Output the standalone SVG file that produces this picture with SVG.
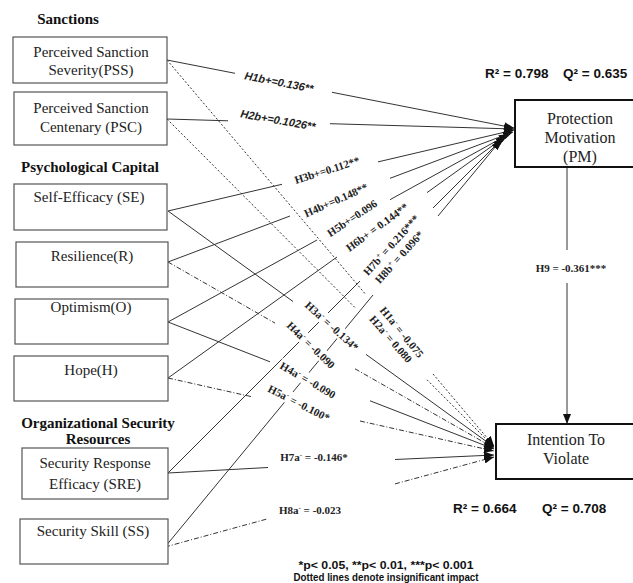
<svg xmlns="http://www.w3.org/2000/svg" width="633" height="583" viewBox="0 0 633 583">
<style>
.box{fill:#fff;stroke:#555;stroke-width:1.2}
.tbox{fill:#fff;stroke:#111;stroke-width:2}
.nt{font-family:"Liberation Serif","Times New Roman",serif;font-size:15px;fill:#222;text-anchor:middle}
.bt{font-family:"Liberation Serif","Times New Roman",serif;font-size:16px;fill:#222;text-anchor:middle}
.cat{font-family:"Liberation Serif","Times New Roman",serif;font-size:15px;font-weight:bold;fill:#111;text-anchor:middle}
.el{font-family:"Liberation Serif","Times New Roman",serif;font-size:11px;font-weight:bold;fill:#222;text-anchor:middle}
.eli{font-family:"Liberation Sans",Arial,sans-serif;font-size:11px;font-style:italic;font-weight:bold;fill:#222;text-anchor:middle}
.stat{font-family:"Liberation Sans",Arial,sans-serif;font-size:13.5px;font-weight:bold;fill:#111}
.leg{font-family:"Liberation Sans",Arial,sans-serif;font-size:11.5px;font-weight:bold;fill:#111;text-anchor:middle}
.ln{fill:none;stroke:#333;stroke-width:1;marker-end:url(#ah)}
.dot{stroke-dasharray:2 2}
.dd{stroke-dasharray:5 2 1 2}
.bg{fill:#fff}
</style>
<defs>
<marker id="ah" markerUnits="userSpaceOnUse" markerWidth="11" markerHeight="8" refX="10" refY="4" orient="auto">
<path d="M0,0 L10,4 L0,8 z" fill="#111"/>
</marker>
</defs>
<rect width="633" height="583" fill="#fff"/>

<g id="connectors">
<!-- to PM -->
<path class="ln" d="M167,60 L235,73.3 M332,92.3 L514,128"/>
<path class="ln" d="M167,119 L228,120.8 M330,123.7 L514,129"/>
<path class="ln" d="M168,211 L282,184.3 M378,161.9 L514,130"/>
<path class="ln" d="M168,262 L290,216 M390,178.3 L513,132"/>
<path class="ln" d="M168,322 L317,240 M390,199.7 L509,134"/>
<path class="ln" d="M168,378 L337,257 M427,192.6 L506,136"/>
<path class="ln" d="M168,473 L360,281 M433,208 L503,138"/>
<path class="ln" d="M165,547 L373,295 M438,216 L501,140"/>
<!-- to ITV -->
<path class="ln dot" d="M167,60 L365,293.6 M433,374 L494,446"/>
<path class="ln dot" d="M167,119 L355,307.6 M427,379.8 L494,447"/>
<path class="ln" d="M168,211 L293,301.5 M366,354.4 L494,447"/>
<path class="ln dd" d="M168,262 L275,323.1 M355,368.8 L494,448"/>
<path class="ln" d="M168,322 L270,361.8 M370,400.8 L494,449"/>
<path class="ln dd" d="M168,378 L253,397 M360,421 L494,451"/>
<path class="ln" d="M168,473 L268,467.5 M395,459.5 L494,455"/>
<path class="ln dd" d="M165,547 L267,519 M395,483.9 L494,457"/>
<!-- H9 -->
<path class="ln" d="M567,168 L567,250 M567,283 L567,424"/>
</g>

<g id="edge-labels">
<g transform="translate(279,82) rotate(11)"><text class="eli" y="4">H1b+=0.136**</text></g>
<g transform="translate(278,120) rotate(10)"><text class="eli" y="4">H2b+=0.1026**</text></g>
<g transform="translate(327,170) rotate(-17.6)"><rect class="bg" x="-37" y="-7" width="74" height="13"/><text class="el" y="4">H3b+=0.112**</text></g>
<g transform="translate(336,200) rotate(-24)"><rect class="bg" x="-37" y="-7" width="74" height="13"/><text class="el" y="4">H4b+=0.148**</text></g>
<g transform="translate(352,218) rotate(-33.7)"><rect class="bg" x="-31" y="-7" width="62" height="13"/><text class="el" y="4">H5b+=0.096</text></g>
<g transform="translate(377,227) rotate(-36)"><rect class="bg" x="-38" y="-7" width="76" height="13"/><text class="el" y="4">H6b+ = 0.144**</text></g>
<g transform="translate(391,245) rotate(-47.6)"><rect class="bg" x="-39" y="-7" width="78" height="13"/><text class="el" y="4">H7b<tspan font-size="7" dy="-4">+</tspan><tspan dy="4"> = 0.216***</tspan></text></g>
<g transform="translate(399,257) rotate(-48)"><rect class="bg" x="-34" y="-7" width="68" height="13"/><text class="el" y="4">H8b<tspan font-size="7" dy="-4">+</tspan><tspan dy="4"> = 0.096*</tspan></text></g>
<g transform="translate(332,326) rotate(42)"><rect class="bg" x="-36" y="-7" width="72" height="13"/><text class="el" y="4">H3a<tspan font-size="7" dy="-4">-</tspan><tspan dy="4"> = -0.134*</tspan></text></g>
<g transform="translate(311,345) rotate(44)"><rect class="bg" x="-33" y="-7" width="66" height="13"/><text class="el" y="4">H4a<tspan font-size="7" dy="-4">-</tspan><tspan dy="4"> = -0.090</tspan></text></g>
<g transform="translate(308,380) rotate(30)"><rect class="bg" x="-33" y="-7" width="66" height="13"/><text class="el" y="4">H4a<tspan font-size="7" dy="-4">-</tspan><tspan dy="4"> = -0.090</tspan></text></g>
<g transform="translate(299,403) rotate(27)"><rect class="bg" x="-36" y="-7" width="72" height="13"/><text class="el" y="4">H5a<tspan font-size="7" dy="-4">-</tspan><tspan dy="4"> = -0.100*</tspan></text></g>
<g transform="translate(402,332) rotate(51)"><rect class="bg" x="-34" y="-7" width="68" height="13"/><text class="el" y="4">H1a<tspan font-size="7" dy="-4">-</tspan><tspan dy="4"> = -0.075</tspan></text></g>
<g transform="translate(391,339) rotate(49)"><rect class="bg" x="-32" y="-7" width="64" height="13"/><text class="el" y="4">H2a<tspan font-size="7" dy="-4">-</tspan><tspan dy="4"> = 0.080</tspan></text></g>
<text class="el" x="314" y="461">H7a<tspan font-size="7" dy="-4">-</tspan><tspan dy="4"> = -0.146*</tspan></text>
<text class="el" x="310" y="514">H8a<tspan font-size="7" dy="-4">-</tspan><tspan dy="4"> = -0.023</tspan></text>
<text class="el" x="571" y="272">H9 = -0.361***</text>
</g>

<g id="categories">
<text class="cat" x="68" y="24">Sanctions</text>
<text class="cat" x="90" y="172">Psychological Capital</text>
<text class="cat" x="98" y="428">Organizational Security</text>
<text class="cat" x="98" y="444">Resources</text>
</g>

<g id="node-PSS"><rect class="box" x="13" y="37" width="154" height="46"/><text class="nt" x="91" y="57">Perceived Sanction</text><text class="nt" x="91" y="75">Severity(PSS)</text></g>
<g id="node-PSC"><rect class="box" x="14" y="92" width="153" height="53"/><text class="nt" x="91" y="113">Perceived Sanction</text><text class="nt" x="91" y="132">Centenary (PSC)</text></g>
<g id="node-SE"><rect class="box" x="14" y="184" width="153" height="46"/><text class="nt" x="89" y="202">Self-Efficacy (SE)</text></g>
<g id="node-R"><rect class="box" x="16" y="242" width="152" height="45"/><text class="nt" x="92" y="261">Resilience(R)</text></g>
<g id="node-O"><rect class="box" x="15" y="299" width="153" height="45"/><text class="nt" x="91" y="312">Optimism(O)</text></g>
<g id="node-H"><rect class="box" x="14" y="356" width="154" height="45"/><text class="nt" x="91" y="375">Hope(H)</text></g>
<g id="node-SRE"><rect class="box" x="22" y="448" width="146" height="51"/><text class="nt" x="95" y="468">Security Response</text><text class="nt" x="95" y="489">Efficacy (SRE)</text></g>
<g id="node-SS"><rect class="box" x="20" y="519" width="148" height="45"/><text class="nt" x="93" y="536">Security Skill (SS)</text></g>
<g id="node-PM"><rect class="tbox" x="515" y="100" width="130" height="67"/><text class="bt" x="580" y="124">Protection</text><text class="bt" x="580" y="143">Motivation</text><text class="bt" x="580" y="162">(PM)</text></g>
<g id="node-ITV"><rect class="tbox" x="496" y="424" width="145" height="55"/><text class="bt" x="566" y="445">Intention To</text><text class="bt" x="566" y="464">Violate</text></g>

<g id="stats">
<text class="stat" x="485" y="78">R² = 0.798</text>
<text class="stat" x="563" y="78">Q² = 0.635</text>
<text class="stat" x="453" y="513">R² = 0.664</text>
<text class="stat" x="542" y="513">Q² = 0.708</text>
</g>
<g id="legend">
<text class="leg" x="386" y="569" textLength="175" lengthAdjust="spacingAndGlyphs">*p&lt; 0.05, **p&lt; 0.01, ***p&lt; 0.001</text>
<text class="leg" x="386" y="581" textLength="185" lengthAdjust="spacingAndGlyphs">Dotted lines denote insignificant impact</text>
</g>
</svg>
